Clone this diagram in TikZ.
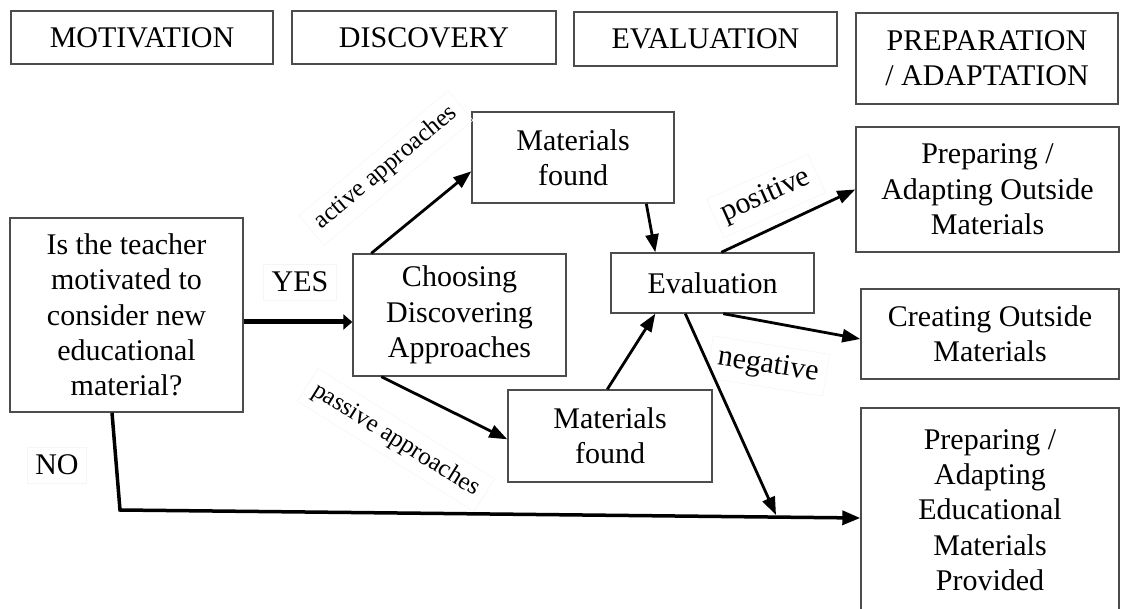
\documentclass[tikz,border=0pt]{standalone}
\usepackage{fontspec}
\setmainfont{Liberation Serif}
\usetikzlibrary{positioning, arrows.meta, calc}
\newcommand{\bigtxt}{\fontsize{30}{35.3}\selectfont}
\newcommand{\smalltxt}{\fontsize{25}{30}\selectfont}
\tikzset{%
  block/.style = {draw = black!70, line width = 1.4pt, rectangle, inner sep = 0pt,
    align = center, font = \bigtxt},
  note/.style  = {draw = black!4, line width = 0.6pt, inner sep = 8pt, font = \bigtxt}, % faint label box
  flow/.style  = {line width = 2.8pt, -{Triangle[length = 18pt, width = 13pt]}},
  junction/.style = {coordinate}
}

\begin{document}
\begin{tikzpicture}[x = 1pt, y = -1pt]
\useasboundingbox (0,0) rectangle (1121,609);
\clip (0,0) rectangle (1121,609);
%stage headers
\draw
	(142,37.5) node [block, minimum width = 262pt, minimum height = 53pt] (hmot) {MOTIVATION}
	(424,37.5) node [block, minimum width = 264pt, minimum height = 53pt] (hdisc) {DISCOVERY}
	(705.5,39) node [block, minimum width = 263pt, minimum height = 54pt] (heval) {EVALUATION}
	(987,58.5) node [block, minimum width = 262pt, minimum height = 91pt] (hprep) {PREPARATION\\/ ADAPTATION};
%process blocks
\draw
	(126.5,315) node [block, minimum width = 233pt, minimum height = 194pt] (teacher) {Is the teacher\\motivated to\\consider new\\educational\\material?}
	(459.5,315) node [block, minimum width = 213pt, minimum height = 122pt] (choose) {Choosing\\Discovering\\Approaches}
	(573,157.5) node [block, minimum width = 202pt, minimum height = 91pt] (foundA) {Materials\\found}
	(610,436) node [block, minimum width = 204pt, minimum height = 92pt] (foundP) {Materials\\found}
	(712.5,283) node [block, minimum width = 203pt, minimum height = 60pt] (evalbox) {Evaluation}
	(987.5,189.5) node [block, minimum width = 263pt, minimum height = 125pt] (prepout) {Preparing /\\Adapting Outside\\Materials}
	(990,334) node [block, minimum width = 258pt, minimum height = 90pt] (create) {Creating Outside\\Materials}
	(990,510) node [block, minimum width = 258pt, minimum height = 204pt] (provided) {Preparing /\\Adapting\\Educational\\Materials\\Provided};
\coordinate (nocorner) at (120,510);
\coordinate (negend) at (776,515);
%labels
\node [note] (yes) at (300,282) {YES};
\node [note] (no) at (57,465) {NO};
\node [note, font = \smalltxt, rotate = 40] (active) at (386,168) {active approaches};
\node [note, font = \smalltxt, rotate = -32] (passive) at (396,440) {passive approaches};
\node [note, rotate = 24] (pos) at (766,196) {positive};
\node [note, rotate = -9] (neg) at (768,366) {negative};
%lines
\draw[line width = 5pt, -{Triangle[length = 9pt, width = 15pt]}] ([yshift = -7pt]teacher.east) -- ([yshift = -7pt]choose.west);
\draw[flow] ([xshift = 19pt]choose.north west) -- ([yshift = -60pt]foundA.north west);
\draw[flow] ([xshift = 29pt]choose.south west) -- ([yshift = -50pt]foundP.north west);
\draw[flow] ([xshift = 175pt]foundA.south west) -- ([xshift = 45pt]evalbox.north west);
\draw[flow] ([xshift = 100pt]foundP.north west) -- ([xshift = 45pt]evalbox.south west);
\draw[flow] ([xshift = 111pt]evalbox.north west) -- (prepout.west);
\draw[flow] ([xshift = 113pt]evalbox.south west) -- ([yshift = -5pt]create.west);
\draw[flow] ([xshift = 75pt]evalbox.south west) -- (negend);
%no branch
\draw[line width = 3.5pt, -{Triangle[length = 18pt, width = 14pt]}] ([xshift = -14.5pt]teacher.south) -- (nocorner) -- ([yshift = -8pt]provided.west);
\end{tikzpicture}
\end{document}
